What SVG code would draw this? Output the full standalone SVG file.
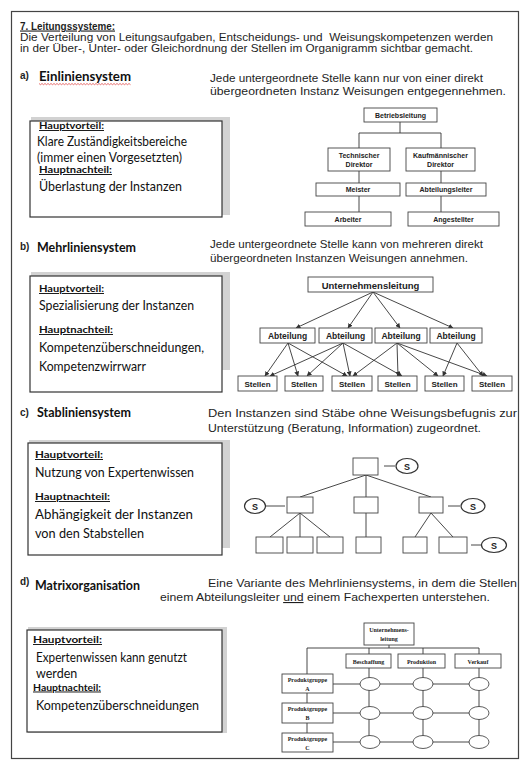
<svg xmlns="http://www.w3.org/2000/svg" width="529" height="777" viewBox="0 0 529 777">
<style>
.ar{font-family:"Liberation Sans",Arial,sans-serif;fill:#1e1e1e}
.hd{font-size:11px;font-weight:bold;text-decoration:underline}
.tx{font-size:11px}
.sm{font-size:10px;font-weight:bold}
.ca{font-family:Lato,"Open Sans",sans-serif;fill:#111}
.ti{font-size:13px;font-weight:bold}
.bd{font-size:12.5px}
.lb{font-size:9.5px;font-weight:bold;text-decoration:underline}
.sh{fill:#d2d2d2}
.bx{fill:#fff;stroke:#333;stroke-width:1.2}
.ln{stroke:#333;stroke-width:0.9;fill:none}
.ob{fill:#fff;stroke:#444;stroke-width:0.9}
.ot{font-family:"Liberation Sans",Arial,sans-serif;font-weight:bold;font-size:7px;text-anchor:middle;fill:#222}
.bt{font-family:"Liberation Sans",Arial,sans-serif;font-weight:bold;text-anchor:middle;fill:#222}
.se{font-family:"Liberation Serif","Times New Roman",serif;font-weight:bold;font-size:6px;text-anchor:middle;fill:#222}
</style>
<defs>
<marker id="ah" markerWidth="5" markerHeight="5" refX="4.5" refY="2.5" orient="auto" markerUnits="userSpaceOnUse"><path d="M0,0 L5,2.5 L0,5 z" fill="#333"/></marker>
</defs>
<rect width="529" height="777" fill="#fff"/>
<rect x="11.5" y="11.5" width="507" height="747" fill="none" stroke="#444" stroke-width="1.2"/>

<g id="header">
<text class="ar hd" x="20" y="29.5" textLength="95" lengthAdjust="spacingAndGlyphs">7. Leitungssysteme:</text>
<text class="ar tx" x="20" y="41" textLength="473" lengthAdjust="spacingAndGlyphs" xml:space="preserve">Die Verteilung von Leitungsaufgaben, Entscheidungs- und  Weisungskompetenzen werden</text>
<text class="ar tx" x="20" y="52" textLength="453" lengthAdjust="spacingAndGlyphs">in der Über-, Unter- oder Gleichordnung der Stellen im Organigramm sichtbar gemacht.</text>
</g>

<!-- Section a -->
<g id="sec-a-title">
<text class="ar sm" x="20" y="79">a)</text>
<text class="ca ti" x="39" y="80.5" textLength="92" lengthAdjust="spacingAndGlyphs">Einliniensystem</text>
<polyline points="39,83.5 40.5,84.7 42,83.5 43.5,84.7 45,83.5 46.5,84.7 48,83.5 49.5,84.7 51,83.5 52.5,84.7 54,83.5 55.5,84.7 57,83.5 58.5,84.7 60,83.5 61.5,84.7 63,83.5 64.5,84.7 66,83.5 67.5,84.7 69,83.5 70.5,84.7 72,83.5 73.5,84.7 75,83.5 76.5,84.7 78,83.5 79.5,84.7 81,83.5 82.5,84.7 84,83.5 85.5,84.7 87,83.5 88.5,84.7 90,83.5 91.5,84.7 93,83.5 94.5,84.7 96,83.5 97.5,84.7 99,83.5 100.5,84.7 102,83.5 103.5,84.7 105,83.5 106.5,84.7 108,83.5 109.5,84.7 111,83.5 112.5,84.7 114,83.5 115.5,84.7 117,83.5 118.5,84.7 120,83.5 121.5,84.7 123,83.5 124.5,84.7 126,83.5 127.5,84.7 129,83.5 130.5,84.7" fill="none" stroke="#d33" stroke-width="0.7"/>
<text class="ar tx" x="210" y="81.5" textLength="273" lengthAdjust="spacingAndGlyphs">Jede untergeordnete Stelle kann nur von einer direkt</text>
<text class="ar tx" x="210" y="94.5" textLength="296" lengthAdjust="spacingAndGlyphs">übergeordneten Instanz Weisungen entgegennehmen.</text>
</g>
<g id="box-a">
<rect class="sh" x="31" y="117" width="199" height="98"/>
<rect class="bx" x="30" y="121" width="192" height="96"/>
<text class="ca lb" x="39" y="129" textLength="65" lengthAdjust="spacingAndGlyphs">Hauptvorteil:</text>
<text class="ca bd" x="37" y="146" textLength="150" lengthAdjust="spacingAndGlyphs">Klare Zuständigkeitsbereiche</text>
<text class="ca bd" x="37" y="162" textLength="145" lengthAdjust="spacingAndGlyphs">(immer einen Vorgesetzten)</text>
<text class="ca lb" x="39" y="173" textLength="73" lengthAdjust="spacingAndGlyphs">Hauptnachteil:</text>
<text class="ca bd" x="39" y="191" textLength="143" lengthAdjust="spacingAndGlyphs">Überlastung der Instanzen</text>
</g>
<g id="chart-a-connectors">
<path class="ln" d="M400,122 V133 M359,133 H441 M359,133 V148 M441,133 V148 M359,171 V183 M441,171 V183 M359,196 V212 M441,196 V212"/>
</g>
<g id="a-betriebsleitung"><rect class="ob" x="364" y="108" width="73" height="14"/><text class="ot" x="400.5" y="118" font-size="7.5">Betriebsleitung</text></g>
<g id="a-techdir"><rect class="ob" x="328" y="148" width="62" height="23"/><text class="ot" x="359" y="157.5">Technischer</text><text class="ot" x="359" y="167">Direktor</text></g>
<g id="a-kaufdir"><rect class="ob" x="406" y="148" width="69" height="23"/><text class="ot" x="440.5" y="157.5">Kaufmännischer</text><text class="ot" x="440.5" y="167">Direktor</text></g>
<g id="a-meister"><rect class="ob" x="316" y="183" width="84" height="13"/><text class="ot" x="358" y="192">Meister</text></g>
<g id="a-abtleiter"><rect class="ob" x="406" y="183" width="80" height="13"/><text class="ot" x="446" y="192">Abteilungsleiter</text></g>
<g id="a-arbeiter"><rect class="ob" x="305" y="212" width="86" height="14"/><text class="ot" x="348" y="222">Arbeiter</text></g>
<g id="a-angestellter"><rect class="ob" x="408" y="212" width="91" height="14"/><text class="ot" x="453.5" y="222">Angestellter</text></g>

<!-- Section b -->
<g id="sec-b-title">
<text class="ar sm" x="20" y="250">b)</text>
<text class="ca ti" x="37" y="252" textLength="99" lengthAdjust="spacingAndGlyphs">Mehrliniensystem</text>
<text class="ar tx" x="210" y="247.5" textLength="273" lengthAdjust="spacingAndGlyphs">Jede untergeordnete Stelle kann von mehreren direkt</text>
<text class="ar tx" x="210" y="261.5" textLength="258" lengthAdjust="spacingAndGlyphs">übergeordneten Instanzen Weisungen annehmen.</text>
</g>
<g id="box-b">
<rect class="sh" x="31" y="272" width="199" height="98"/>
<rect class="bx" x="30" y="276" width="192" height="116"/>
<text class="ca lb" x="39" y="292" textLength="65" lengthAdjust="spacingAndGlyphs">Hauptvorteil:</text>
<text class="ca bd" x="39" y="310" textLength="155" lengthAdjust="spacingAndGlyphs">Spezialisierung der Instanzen</text>
<text class="ca lb" x="39" y="333" textLength="74" lengthAdjust="spacingAndGlyphs">Hauptnachteil:</text>
<text class="ca bd" x="39" y="352" textLength="165" lengthAdjust="spacingAndGlyphs">Kompetenzüberschneidungen,</text>
<text class="ca bd" x="39" y="371" textLength="107" lengthAdjust="spacingAndGlyphs">Kompetenzwirrwarr</text>
</g>
<g id="chart-b-connectors" class="ln" marker-end="url(#ah)">
<line x1="373" y1="292" x2="296" y2="328"/>
<line x1="373" y1="292" x2="348" y2="328"/>
<line x1="373" y1="292" x2="400" y2="328"/>
<line x1="373" y1="292" x2="453" y2="328"/>
<line x1="288" y1="343" x2="265" y2="376"/>
<line x1="288" y1="343" x2="298" y2="376"/>
<line x1="288" y1="343" x2="347" y2="376"/>
<line x1="343" y1="343" x2="270" y2="376"/>
<line x1="343" y1="343" x2="307" y2="376"/>
<line x1="343" y1="343" x2="350" y2="376"/>
<line x1="343" y1="343" x2="402" y2="376"/>
<line x1="397" y1="343" x2="353" y2="376"/>
<line x1="397" y1="343" x2="398" y2="376"/>
<line x1="397" y1="343" x2="438" y2="376"/>
<line x1="397" y1="343" x2="487" y2="376"/>
<line x1="457" y1="343" x2="443" y2="376"/>
<line x1="457" y1="343" x2="483" y2="376"/>
</g>
<g id="b-leitung"><rect class="ob" x="308" y="277" width="125" height="15"/><text class="bt" x="370.5" y="288.5" font-size="9.5">Unternehmensleitung</text></g>
<g id="b-abt1"><rect class="ob" x="260" y="328" width="55" height="15"/><text class="bt" x="287.5" y="339" font-size="8.5">Abteilung</text></g>
<g id="b-abt2"><rect class="ob" x="319" y="328" width="53" height="15"/><text class="bt" x="345.5" y="339" font-size="8.5">Abteilung</text></g>
<g id="b-abt3"><rect class="ob" x="375" y="328" width="52" height="15"/><text class="bt" x="401" y="339" font-size="8.5">Abteilung</text></g>
<g id="b-abt4"><rect class="ob" x="430" y="328" width="52" height="15"/><text class="bt" x="456" y="339" font-size="8.5">Abteilung</text></g>
<g id="b-st1"><rect class="ob" x="238" y="376" width="39" height="15"/><text class="bt" x="257.5" y="387" font-size="8">Stellen</text></g>
<g id="b-st2"><rect class="ob" x="285" y="376" width="38" height="15"/><text class="bt" x="304" y="387" font-size="8">Stellen</text></g>
<g id="b-st3"><rect class="ob" x="332" y="376" width="40" height="15"/><text class="bt" x="352" y="387" font-size="8">Stellen</text></g>
<g id="b-st4"><rect class="ob" x="378" y="376" width="39" height="15"/><text class="bt" x="397.5" y="387" font-size="8">Stellen</text></g>
<g id="b-st5"><rect class="ob" x="425" y="376" width="39" height="15"/><text class="bt" x="444.5" y="387" font-size="8">Stellen</text></g>
<g id="b-st6"><rect class="ob" x="472" y="376" width="40" height="15"/><text class="bt" x="492" y="387" font-size="8">Stellen</text></g>

<!-- Section c -->
<g id="sec-c-title">
<text class="ar sm" x="20" y="416">c)</text>
<text class="ca ti" x="37" y="417" textLength="94" lengthAdjust="spacingAndGlyphs">Stabliniensystem</text>
<text class="ar tx" x="208" y="417" textLength="309" lengthAdjust="spacingAndGlyphs">Den Instanzen sind Stäbe ohne Weisungsbefugnis zur</text>
<text class="ar tx" x="208" y="431.5" textLength="273" lengthAdjust="spacingAndGlyphs">Unterstützung (Beratung, Information) zugeordnet.</text>
</g>
<g id="box-c">
<rect class="sh" x="29" y="440" width="201" height="108"/>
<rect class="bx" x="28" y="443" width="194" height="112"/>
<text class="ca lb" x="35" y="458" textLength="68" lengthAdjust="spacingAndGlyphs">Hauptvorteil:</text>
<text class="ca bd" x="35" y="477" textLength="159" lengthAdjust="spacingAndGlyphs">Nutzung von Expertenwissen</text>
<text class="ca lb" x="35" y="500" textLength="75" lengthAdjust="spacingAndGlyphs">Hauptnachteil:</text>
<text class="ca bd" x="35" y="519" textLength="158" lengthAdjust="spacingAndGlyphs">Abhängigkeit der Instanzen</text>
<text class="ca bd" x="35" y="538" textLength="109" lengthAdjust="spacingAndGlyphs">von den Stabstellen</text>
</g>
<g id="chart-c-connectors" class="ln" stroke-width="1.2">
<path d="M366,475 L300,497 M366,475 V497 M366,475 L431,497"/>
<path d="M300,513 L270,537 M300,513 V537 M300,513 L330,537"/>
<path d="M366,513 V537"/>
<path d="M431,513 L415,537 M431,513 L453,537"/>
<path d="M384,466 H395 M265,506 H285 M448,506 H460 M471,545 H481"/>
</g>
<g id="c-top"><rect class="ob" x="353" y="458" width="25" height="17" stroke-width="1.2"/></g>
<g id="c-s-top"><ellipse cx="407" cy="466" rx="11" ry="7.5" fill="#fff" stroke="#333" stroke-width="1.2"/><text class="bt" x="407" y="469.5" font-size="9">S</text></g>
<g id="c-mid-left"><rect class="ob" x="287" y="497" width="26" height="16" stroke-width="1.2"/></g>
<g id="c-mid-center"><rect class="ob" x="354" y="497" width="24" height="16" stroke-width="1.2"/></g>
<g id="c-mid-right"><rect class="ob" x="419" y="497" width="24" height="16" stroke-width="1.2"/></g>
<g id="c-s-left"><ellipse cx="255" cy="506" rx="10.5" ry="7.5" fill="#fff" stroke="#333" stroke-width="1.2"/><text class="bt" x="255" y="509.5" font-size="9">S</text></g>
<g id="c-s-right"><ellipse cx="473" cy="506" rx="12" ry="7.5" fill="#fff" stroke="#333" stroke-width="1.2"/><text class="bt" x="473" y="509.5" font-size="9">S</text></g>
<g id="c-b1"><rect class="ob" x="256" y="537" width="27" height="16" stroke-width="1.2"/></g>
<g id="c-b2"><rect class="ob" x="287" y="537" width="26" height="16" stroke-width="1.2"/></g>
<g id="c-b3"><rect class="ob" x="317" y="537" width="26" height="16" stroke-width="1.2"/></g>
<g id="c-b4"><rect class="ob" x="356" y="537" width="25" height="16" stroke-width="1.2"/></g>
<g id="c-b5"><rect class="ob" x="403" y="537" width="24" height="16" stroke-width="1.2"/></g>
<g id="c-b6"><rect class="ob" x="439" y="537" width="28" height="16" stroke-width="1.2"/></g>
<g id="c-s-bottom"><ellipse cx="494" cy="545" rx="12.5" ry="7.5" fill="#fff" stroke="#333" stroke-width="1.2"/><text class="bt" x="494" y="548.5" font-size="9">S</text></g>

<!-- Section d -->
<g id="sec-d-title">
<text class="ar sm" x="20" y="585">d)</text>
<text class="ca ti" x="35" y="590" textLength="105" lengthAdjust="spacingAndGlyphs">Matrixorganisation</text>
<text class="ar tx" x="208" y="587" textLength="309" lengthAdjust="spacingAndGlyphs">Eine Variante des Mehrliniensystems, in dem die Stellen</text>
<text class="ar tx" x="160" y="601" textLength="330" lengthAdjust="spacingAndGlyphs">einem Abteilungsleiter <tspan text-decoration="underline">und</tspan> einem Fachexperten unterstehen.</text>
</g>
<g id="box-d">
<rect class="sh" x="28" y="627" width="199" height="106"/>
<rect class="bx" x="27" y="630" width="195" height="102"/>
<text class="ca lb" x="33" y="643" textLength="69" lengthAdjust="spacingAndGlyphs">Hauptvorteil:</text>
<text class="ca bd" x="36" y="662" textLength="151" lengthAdjust="spacingAndGlyphs">Expertenwissen kann genutzt</text>
<text class="ca bd" x="36" y="678">werden</text>
<text class="ca lb" x="33" y="690.5" textLength="68" lengthAdjust="spacingAndGlyphs">Hauptnachteil:</text>
<text class="ca bd" x="36" y="710" textLength="163" lengthAdjust="spacingAndGlyphs">Kompetenzüberschneidungen</text>
</g>
<g id="chart-d-connectors" class="ln" stroke-width="0.8">
<path d="M389,645 V648 M307,648 H479 M307,648 V742"/>
<path d="M369,648 V742 M423,648 V742 M479,648 V742"/>
<path d="M333,684 H479 M333,713 H479 M333,742 H479"/>
</g>
<g id="d-leitung"><rect class="ob" x="364" y="623" width="50" height="22" stroke-width="0.8"/><text class="se" x="389" y="632">Unternehmens-</text><text class="se" x="389" y="641">leitung</text></g>
<g id="d-beschaffung"><rect class="ob" x="346" y="654" width="45" height="14" stroke-width="0.8"/><text class="se" x="368.5" y="663.5" font-size="6.5">Beschaffung</text></g>
<g id="d-produktion"><rect class="ob" x="398" y="654" width="47" height="14" stroke-width="0.8"/><text class="se" x="421.5" y="663.5" font-size="6.5">Produktion</text></g>
<g id="d-verkauf"><rect class="ob" x="455" y="654" width="46" height="14" stroke-width="0.8"/><text class="se" x="478" y="663.5" font-size="6.5">Verkauf</text></g>
<g id="d-pga"><rect class="ob" x="282" y="674" width="51" height="19" stroke-width="0.8"/><text class="se" x="307.5" y="682">Produktgruppe</text><text class="se" x="307.5" y="690.5">A</text></g>
<g id="d-pgb"><rect class="ob" x="282" y="703" width="51" height="20" stroke-width="0.8"/><text class="se" x="307.5" y="711">Produktgruppe</text><text class="se" x="307.5" y="719.5">B</text></g>
<g id="d-pgc"><rect class="ob" x="282" y="733" width="51" height="19" stroke-width="0.8"/><text class="se" x="307.5" y="741">Produktgruppe</text><text class="se" x="307.5" y="749.5">C</text></g>
<g id="d-cells" fill="#fff" stroke="#333" stroke-width="0.8">
<ellipse cx="370" cy="684" rx="10" ry="6.5"/><ellipse cx="423" cy="684" rx="10" ry="6.5"/><ellipse cx="479" cy="684" rx="10" ry="6.5"/>
<ellipse cx="370" cy="713" rx="10" ry="6.5"/><ellipse cx="423" cy="713" rx="10" ry="6.5"/><ellipse cx="479" cy="713" rx="10" ry="6.5"/>
<ellipse cx="370" cy="742" rx="10" ry="6.5"/><ellipse cx="423" cy="742" rx="10" ry="6.5"/><ellipse cx="479" cy="742" rx="10" ry="6.5"/>
</g>
</svg>
